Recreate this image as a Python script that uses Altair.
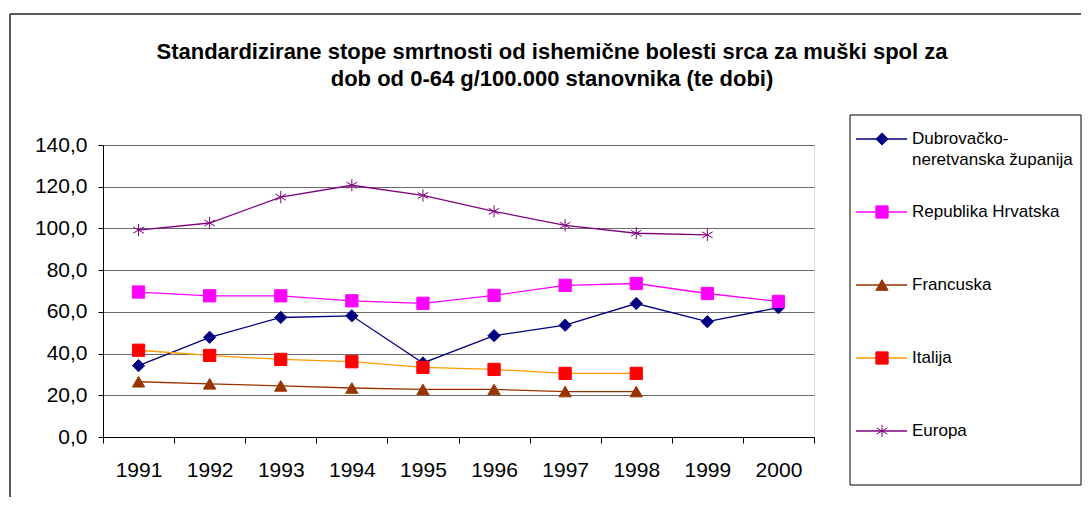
import altair as alt
import pandas as pd

# ---------------- data ----------------
years = ["1991", "1992", "1993", "1994", "1995", "1996", "1997", "1998", "1999", "2000"]
series = ["Dubrovačko-neretvanska županija", "Republika Hrvatska", "Francuska", "Italija", "Europa"]
legend_labels = ["Dubrovačko-\nneretvanska županija", "Republika Hrvatska", "Francuska", "Italija", "Europa"]
dubrovnik = [34.2, 47.8, 57.3, 58.1, 35.5, 48.6, 53.6, 64.0, 55.3, 62.0]
hrvatska = [69.5, 67.7, 67.7, 65.3, 64.1, 67.9, 72.7, 73.6, 68.8, 65.0]
francuska = [26.5, 25.5, 24.5, 23.5, 22.8, 22.8, 21.8, 21.8]
italija = [41.6, 39.1, 37.2, 36.1, 33.4, 32.4, 30.5, 30.5]
europa = [99.2, 102.6, 115.0, 120.7, 115.8, 108.2, 101.5, 97.7, 96.9]
title_lines = [
    "Standardizirane stope smrtnosti od ishemične bolesti srca za muški spol za",
    "dob od 0-64 g/100.000 stanovnika (te dobi)",
]
y_ticks = [0, 20, 40, 60, 80, 100, 120, 140]

line_colors = ["#000080", "#FF00FF", "#993300", "#FF9900", "#800080"]
marker_colors = ["#000080", "#FF00FF", "#993300", "#FF0000", "#800080"]
asterisk = "M0,-1L0,1M-0.87,-0.5L0.87,0.5M-0.87,0.5L0.87,-0.5"
shapes = ["diamond", "square", "triangle-up", "square", asterisk]

FONT = "Liberation Sans"

rows = []
for name, vals in zip(series, [dubrovnik, hrvatska, francuska, italija, europa]):
    for yr, v in zip(years, vals):
        rows.append({"series": name, "year": yr, "value": v})
df = pd.DataFrame(rows)
leg_df = pd.DataFrame({"series": series, "label": legend_labels})
title_df = pd.DataFrame({"t": ["\n".join(title_lines)]})
one = pd.DataFrame({"k": [0]})

# ---------------- encodings ----------------
color_enc = alt.Color("series:N", scale=alt.Scale(domain=series, range=line_colors), legend=None)
fill_enc = alt.Fill("series:N", scale=alt.Scale(domain=series, range=marker_colors), legend=None)
stroke_enc = alt.Stroke("series:N", scale=alt.Scale(domain=series, range=marker_colors), legend=None)
shape_enc = alt.Shape("series:N", scale=alt.Scale(domain=series, range=shapes), legend=None)

x_enc = alt.X(
    "year:O",
    sort=years,
    scale=alt.Scale(type="band", domain=years, paddingInner=0, paddingOuter=0),
    axis=alt.Axis(
        title=None, labelAngle=0, tickBand="extent", tickSize=6, labelPadding=16,
        labelFontSize=21, labelFont=FONT, labelColor="#000", domainColor="#000",
        tickColor="#000", grid=False,
    ),
)
y_enc = alt.Y(
    "value:Q",
    scale=alt.Scale(domain=[0, 140], nice=False),
    axis=alt.Axis(
        title=None, values=y_ticks, tickSize=5, labelPadding=11,
        labelExpr="replace(format(datum.value, '.1f'), '.', ',')",
        labelFontSize=21, labelFont=FONT, labelColor="#000", domainColor="#000",
        tickColor="#000", grid=True, gridColor="#6a6a6a", gridWidth=1.2,
    ),
)

base = alt.Chart(df)
lines = base.mark_line(strokeWidth=1.3).encode(x=x_enc, y=y_enc, color=color_enc)
points = base.mark_point(filled=True, size=150, opacity=1, strokeWidth=1).encode(
    x=x_enc, y=y_enc, shape=shape_enc, fill=fill_enc, stroke=stroke_enc
)
main = alt.layer(lines, points)

# ---------------- legend (built from series list) ----------------
ly = alt.Y("series:N", scale=alt.Scale(type="point", domain=series, range=[-6, 286], padding=0), axis=None)
lbase = alt.Chart(leg_df)
leg_rules = lbase.mark_rule(strokeWidth=1.3).encode(
    x=alt.value(753), x2=alt.value(804), y=ly, color=color_enc
)
leg_points = lbase.mark_point(filled=True, size=150, opacity=1, strokeWidth=1).encode(
    x=alt.value(779), y=ly, shape=shape_enc, fill=fill_enc, stroke=stroke_enc
)
leg_text = lbase.mark_text(
    align="left", baseline="middle", fontSize=17, font=FONT, color="#000",
    lineBreak="\n", lineHeight=21,
).encode(x=alt.value(809), y=ly, text="label:N")
legend = alt.layer(leg_rules, leg_points, leg_text)

leg_box = alt.Chart(one).mark_rect(fillOpacity=0, stroke="#000", strokeWidth=1).encode(
    x=alt.value(747), x2=alt.value(978), y=alt.value(-30), y2=alt.value(340)
)

# ---------------- chart frame & title ----------------
frame_left = alt.Chart(one).mark_rule(color="#222", strokeWidth=1.5).encode(
    x=alt.value(-93), y=alt.value(-131), y2=alt.value(352)
)
frame_top = alt.Chart(one).mark_rule(color="#222", strokeWidth=1.5).encode(
    x=alt.value(-93), x2=alt.value(978), y=alt.value(-131)
)
title = alt.Chart(title_df).mark_text(
    align="center", baseline="alphabetic", fontSize=22, fontWeight="bold", font=FONT,
    color="#000", lineBreak="\n", lineHeight=27,
).encode(x=alt.value(449), y=alt.value(-86), text="t:N")

chart = (
    alt.layer(frame_left, frame_top, title, leg_box, main, legend)
    .resolve_scale(y="independent")
    .properties(width=711, height=292, padding={"left": 1, "top": 5, "right": 0, "bottom": 0})
    .configure_view(stroke="#808080", strokeWidth=1.2)
    .configure(background="white")
)

chart.save("out.html", embed_options={"renderer": "svg", "actions": False})
